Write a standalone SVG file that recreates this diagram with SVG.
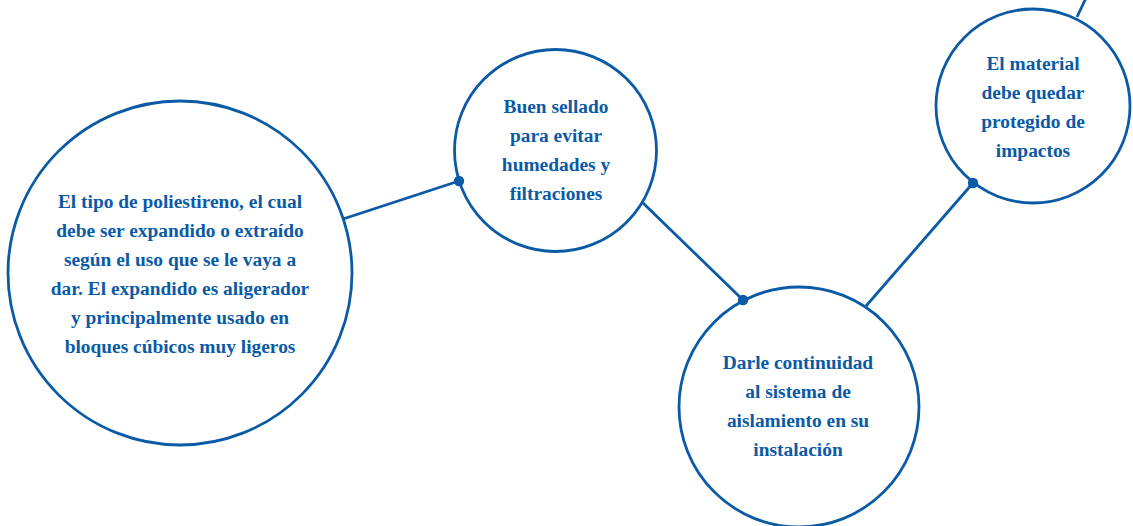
<svg xmlns="http://www.w3.org/2000/svg" width="1133" height="526" viewBox="0 0 1133 526">
  <style>
    .node { fill: #ffffff; stroke: #0b5aa6; stroke-width: 2.8; }
    .edge { stroke: #0b5aa6; stroke-width: 2.8; fill: none; }
    .dot { fill: #0b5aa6; }
    .lbl { font-family: "Liberation Serif", "DejaVu Serif", serif; font-weight: bold; font-size: 19.4px; fill: #0b5aa6; text-anchor: middle; }
  </style>
  <rect width="1133" height="526" fill="#ffffff"/>
  <g id="connectors">
    <line class="edge" x1="343" y1="219" x2="459" y2="181"/>
    <line class="edge" x1="643" y1="203" x2="743" y2="300"/>
    <line class="edge" x1="866" y1="306" x2="973" y2="183"/>
    <line class="edge" x1="1077" y1="17" x2="1086" y2="-2"/>
  </g>
  <g id="node-poliestireno">
    <circle class="node" cx="180" cy="273" r="172"/>
    <text class="lbl" x="180" y="208">El tipo de poliestireno, el cual</text>
    <text class="lbl" x="180" y="237">debe ser expandido o extraído</text>
    <text class="lbl" x="180" y="266">según el uso que se le vaya a</text>
    <text class="lbl" x="180" y="295">dar. El expandido es aligerador</text>
    <text class="lbl" x="180" y="324">y principalmente usado en</text>
    <text class="lbl" x="180" y="353">bloques cúbicos muy ligeros</text>
  </g>
  <g id="node-sellado">
    <circle class="node" cx="555.5" cy="150.5" r="101"/>
    <text class="lbl" x="556" y="113">Buen sellado</text>
    <text class="lbl" x="556" y="142">para evitar</text>
    <text class="lbl" x="556" y="171">humedades y</text>
    <text class="lbl" x="556" y="200">filtraciones</text>
  </g>
  <g id="node-continuidad">
    <circle class="node" cx="799" cy="407" r="120"/>
    <text class="lbl" x="798" y="369">Darle continuidad</text>
    <text class="lbl" x="798" y="398">al sistema de</text>
    <text class="lbl" x="798" y="427">aislamiento en su</text>
    <text class="lbl" x="798" y="456">instalación</text>
  </g>
  <g id="node-material">
    <circle class="node" cx="1033" cy="106" r="97"/>
    <text class="lbl" x="1033" y="70">El material</text>
    <text class="lbl" x="1033" y="99">debe quedar</text>
    <text class="lbl" x="1033" y="128">protegido de</text>
    <text class="lbl" x="1033" y="157">impactos</text>
  </g>
  <g id="dots">
    <circle class="dot" cx="459" cy="181" r="5.2"/>
    <circle class="dot" cx="743" cy="300" r="5.2"/>
    <circle class="dot" cx="973" cy="183" r="5.2"/>
  </g>
</svg>
